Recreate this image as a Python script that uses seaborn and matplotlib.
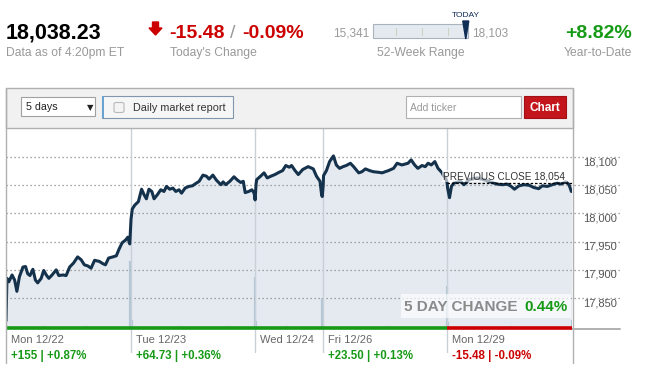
import numpy as np
import pandas as pd
import matplotlib
matplotlib.use("Agg")
import matplotlib.pyplot as plt
import matplotlib.patches as mpatches
import matplotlib.transforms as mtrans
from matplotlib.lines import Line2D
import seaborn as sns

# ---- data ----
days = ["Mon 12/22", "Tue 12/23", "Wed 12/24", "Fri 12/26", "Mon 12/29"]
session_minutes = [390, 390, 210, 390, 390]
day_change_pts = [155, 64.73, 6.04, 23.50, -15.48]
day_change_labels = ["+155 | +0.87%", "+64.73 | +0.36%", "", "+23.50 | +0.13%", "-15.48 | -0.09%"]

mon22_t = [0, 3, 9, 19, 27, 34, 42, 53, 61, 68, 75, 84, 92, 99, 110, 118, 126, 134, 144, 157, 165,
           178, 188, 199, 211, 224, 235, 245, 256, 266, 277, 292, 303, 311, 321, 334, 345, 353, 363,
           374, 381, 387]
mon22_p = [17810, 17885, 17879, 17891, 17882, 17862, 17888, 17905, 17906, 17893, 17890, 17901, 17882,
           17877, 17885, 17899, 17891, 17885, 17891, 17900, 17890, 17891, 17890, 17905, 17912, 17923,
           17918, 17909, 17907, 17903, 17917, 17915, 17911, 17909, 17921, 17923, 17925, 17936, 17948,
           17953, 17958, 17946]
tue23_t = [1, 5, 13, 24, 34, 42, 49, 57, 66, 73, 83, 94, 104, 112, 122, 132, 141, 151, 159, 170, 182,
           193, 203, 214, 226, 237, 245, 257, 268, 282, 289, 297, 310, 323, 334, 344, 352, 358, 369,
           379, 386, 389]
tue23_p = [17990, 18008, 18015, 18021, 18043, 18033, 18026, 18043, 18039, 18026, 18033, 18042, 18039,
           18048, 18043, 18045, 18039, 18042, 18036, 18045, 18048, 18049, 18053, 18057, 18068, 18066,
           18061, 18068, 18059, 18051, 18056, 18051, 18057, 18065, 18059, 18055, 18057, 18037, 18039,
           18042, 18036, 18024]
wed24_t = [2, 4, 14, 27, 37, 48, 61, 74, 85, 95, 106, 113, 124, 134, 148, 165, 181, 191, 202, 207, 209]
wed24_p = [18052, 18060, 18065, 18072, 18063, 18066, 18069, 18073, 18076, 18085, 18082, 18085, 18076,
           18069, 18078, 18083, 18079, 18066, 18057, 18033, 18030]
fri26_t = [2, 3, 12, 22, 29, 34, 43, 53, 64, 74, 87, 97, 113, 123, 134, 147, 159, 175, 186, 206, 222,
           233, 248, 267, 277, 288, 298, 311, 321, 330, 340, 351, 361, 374, 378, 384, 389]
fri26_p = [18050, 18067, 18076, 18092, 18098, 18102, 18086, 18080, 18083, 18085, 18089, 18083, 18072,
           18074, 18079, 18076, 18074, 18073, 18072, 18076, 18080, 18089, 18086, 18089, 18095, 18086,
           18080, 18085, 18083, 18089, 18086, 18092, 18080, 18072, 18067, 18063, 18056]
mon29_t = [1, 4, 7, 13, 21, 42, 52, 68, 94, 114, 135, 156, 172, 188, 200, 210, 224, 240, 256, 271,
           286, 297, 313, 328, 344, 355, 370, 380, 388]
mon29_p = [18045, 18036, 18028, 18048, 18054, 18057, 18051, 18060, 18063, 18060, 18056, 18052, 18051,
           18052, 18048, 18043, 18049, 18051, 18050, 18046, 18044, 18049, 18048, 18051, 18054, 18052,
           18056, 18052, 18039]

# volume bars (day index, minute, volume in chart units 0-100)
vol_day = [0, 0, 0, 0, 1, 1, 1, 1, 2, 2, 2, 3, 3, 3, 4, 4, 4]
vol_min = [1, 120, 250, 389, 3, 150, 300, 389, 2, 100, 209, 2, 200, 389, 2, 200, 389]
vol_val = [5, 1, 1, 33.5, 4, 1, 1, 25.5, 3.5, 1, 15, 2.5, 1, 21, 3, 1, 4]

y_ticks = [17850, 17900, 17950, 18000, 18050, 18100]
prev_close = 18054
last_price = 18038.23
week52_low, week52_high = 15341, 18103

# ---- style ----
sns.set_style("white")
plt.rcParams["font.family"] = ["Liberation Sans", "DejaVu Sans"]

W, H = 645, 375
fig = plt.figure(figsize=(W / 100, H / 100), dpi=100)
fig.patch.set_facecolor("white")


def px(x):
    return x / W


def py(y):
    return 1 - y / H


def T(x, y, s, **kw):
    return fig.text(px(x), py(y), s, **kw)


GREEN = "#169a16"
RED = "#cc0000"
GRAY = "#999999"
NAVY = "#15324c"

# ---- header ----
T(6, 38.5, "18,038.23", fontsize=15.5, fontweight="bold", color="black", va="baseline")
T(6, 56, "Data as of 4:20pm ET", fontsize=8.7, color=GRAY, va="baseline")
arrow = mpatches.Polygon([(px(152.5), py(22)), (px(158.5), py(22)), (px(158.5), py(28)),
                          (px(162), py(28)), (px(155.5), py(35)), (px(149), py(28)),
                          (px(152.5), py(28))], closed=True, color=RED, transform=fig.transFigure)
fig.patches.append(arrow)
T(169, 38.5, "-15.48", fontsize=14, fontweight="bold", color=RED, va="baseline")
T(230, 38.5, "/", fontsize=14, color=GRAY, va="baseline")
T(242, 38.5, "-0.09%", fontsize=14, fontweight="bold", color=RED, va="baseline")
T(170, 56, "Today's Change", fontsize=8.7, color=GRAY, va="baseline")

# 52-week range bar
bar_x0, bar_x1 = 373, 468
fig.patches.append(mpatches.Rectangle((px(bar_x0), py(38)), px(bar_x1 - bar_x0), 14 / H,
                                      facecolor="#e5eaf0", edgecolor="#a9b3bd", lw=0.8,
                                      transform=fig.transFigure))
for tx in [396, 422, 448]:
    fig.lines.append(Line2D([px(tx), px(tx)], [py(27.5), py(34.5)], color="#c9d3c0", lw=0.8,
                            transform=fig.transFigure))
frac = (last_price - week52_low) / (week52_high - week52_low)
mx = bar_x0 + frac * (bar_x1 - bar_x0)
fig.patches.append(mpatches.Polygon([(px(mx - 3), py(21)), (px(mx + 3), py(21)), (px(mx), py(39))],
                                     closed=True, color="#0f2d55", transform=fig.transFigure))
T(mx, 17, "TODAY", fontsize=6, color="#0f2d55", ha="center", va="baseline")
T(369, 36.5, f"{week52_low:,}", fontsize=8.5, color=GRAY, ha="right", va="baseline")
T(472, 36.5, f"{week52_high:,}", fontsize=8.5, color=GRAY, ha="left", va="baseline")
T(421, 56, "52-Week Range", fontsize=8.7, color=GRAY, ha="center", va="baseline")

T(632, 38.5, "+8.82%", fontsize=14, fontweight="bold", color=GREEN, ha="right", va="baseline")
T(632, 56, "Year-to-Date", fontsize=8.7, color=GRAY, ha="right", va="baseline")

# ---- toolbar ----
fig.patches.append(mpatches.Rectangle((px(5.5), py(128)), px(573 - 5.5), 40 / H,
                                      facecolor="#f1f1f1", edgecolor="#b0b0b0", lw=1,
                                      transform=fig.transFigure))
fig.patches.append(mpatches.Rectangle((px(20.5), py(116)), px(75), 19 / H, facecolor="white",
                                      edgecolor="#a0a0a0", lw=0.8, transform=fig.transFigure))
T(26, 110, "5 days", fontsize=7.7, color="#222222", va="baseline")
T(87, 110, "\u25bc", fontsize=6, color="#222222", va="baseline", family="DejaVu Sans")
fig.patches.append(mpatches.Rectangle((px(101.5), py(118)), px(131), 22 / H, facecolor="#f6f6f6",
                                      edgecolor="#7f97ad", lw=0.8, transform=fig.transFigure))
fig.patches.append(mpatches.Rectangle((px(101.5), py(118)), px(3), 22 / H, facecolor="#6aa3cf",
                                      edgecolor="none", transform=fig.transFigure))
fig.patches.append(mpatches.FancyBboxPatch((px(114), py(112.5)), px(10), 10 / H,
                                           boxstyle="round,pad=0,rounding_size=0.004",
                                           facecolor="#f4f4f4", edgecolor="#b8b8b8", lw=0.8,
                                           transform=fig.transFigure))
T(133, 111, "Daily market report", fontsize=7.8, color="#333333", va="baseline")
fig.patches.append(mpatches.Rectangle((px(405.5), py(118)), px(115), 22 / H, facecolor="white",
                                      edgecolor="#b0b0b0", lw=0.8, transform=fig.transFigure))
T(410, 111, "Add ticker", fontsize=7.5, color=GRAY, va="baseline")
fig.patches.append(mpatches.Rectangle((px(523.5), py(118)), px(42), 22 / H, facecolor="#c3161c",
                                      edgecolor="#a01015", lw=0.8, transform=fig.transFigure))
T(544.5, 111, "Chart", fontsize=8.5, fontweight="bold", color="white", ha="center", va="baseline")

# frame borders
for bx in [5.5, 572.5]:
    fig.lines.append(Line2D([px(bx), px(bx)], [py(88), py(363)], color="#b0b0b0", lw=1,
                            transform=fig.transFigure))

# ---- price chart ----
day_offsets = np.concatenate([[0], np.cumsum(session_minutes)[:-1]])
total_minutes = sum(session_minutes)
day_t = [mon22_t, tue23_t, wed24_t, fri26_t, mon29_t]
day_p = [mon22_p, tue23_p, wed24_p, fri26_p, mon29_p]
df = pd.concat([pd.DataFrame({"t": np.array(t) + off, "price": p, "day": d})
                for t, p, off, d in zip(day_t, day_p, day_offsets, days)], ignore_index=True)

y_lo, y_hi = 17797, 18151.5
ax = fig.add_axes([px(6), py(328), px(572 - 6), 200 / H])
ax.set_xlim(0, total_minutes)
ax.set_ylim(y_lo, y_hi)
ax.axis("off")

ax.fill_between(df["t"], df["price"], y_lo, color="#e5eaf1", lw=0, zorder=1)

vol_x = [day_offsets[d] + m for d, m in zip(vol_day, vol_min)]
ax.vlines(vol_x, 0, np.array(vol_val) / 100, transform=ax.get_xaxis_transform(),
          colors="#b3c6d6", lw=1.6, zorder=2)

grid_right = (620 - 6) / 566
for v in y_ticks:
    ax.axhline(v, xmin=0, xmax=grid_right, clip_on=False, color="#8a8a8a", lw=0.9,
               ls=(0, (1, 2.2)), zorder=3)
    ax.text(1.0195, v, f"{v:,}", transform=mtrans.blended_transform_factory(ax.transAxes, ax.transData),
            fontsize=8, color="#555555", va="top", ha="left")

for off in day_offsets[1:]:
    ax.axvline(off, ymin=-24 / 200, ymax=1, clip_on=False, color="#c8d0d8", lw=1, zorder=3)

sns.lineplot(data=df, x="t", y="price", ax=ax, color=NAVY, lw=2.2, zorder=4,
             estimator=None, sort=True, legend=False)
ax.set_xlabel("")
ax.set_ylabel("")

# bottom up/down strip
xt = ax.get_xaxis_transform()
for off, n, chg in zip(day_offsets, session_minutes, day_change_pts):
    ax.plot([off, off + n], [0, 0], transform=xt, color=GREEN if chg >= 0 else RED, lw=2.6,
            solid_capstyle="butt", clip_on=False, zorder=6)
ax.plot([1.0, grid_right], [-0.004, -0.004], transform=ax.transAxes, color="#b0b0b0", lw=1.4,
        clip_on=False, zorder=5)

# previous close
ax.hlines(prev_close, day_offsets[-1], total_minutes, colors="black", linestyles=(0, (2, 1.5)),
          lw=0.9, zorder=6)
ax.text(0.988, prev_close + 3.5, f"PREVIOUS CLOSE {prev_close:,}",
        transform=mtrans.blended_transform_factory(ax.transAxes, ax.transData),
        fontsize=7.2, color="#333333", ha="right", va="bottom", zorder=7,
        bbox=dict(facecolor="white", alpha=0.6, edgecolor="none", pad=1))

# 5 day change box
fig.patches.append(mpatches.Rectangle((px(401), py(318)), px(170), 24 / H, facecolor="white",
                                      alpha=0.65, edgecolor="none", transform=fig.transFigure,
                                      zorder=8))
T(517, 311, "5 DAY CHANGE", fontsize=11, fontweight="bold", color="#8a8a8a", ha="right",
  va="baseline", zorder=9)
T(524, 311, "0.44%", fontsize=11, fontweight="bold", color=GREEN, ha="left", va="baseline", zorder=9)

# day labels under chart
for off, name, lab, chg in zip(day_offsets, days, day_change_labels, day_change_pts):
    xfig = ax.transData.transform((off, y_lo))[0] / fig.dpi / fig.get_figwidth() * W
    T(xfig + 5, 343, name, fontsize=8, color="#666666", va="baseline")
    if lab:
        T(xfig + 5, 359, lab, fontsize=8.3, fontweight="bold", color=GREEN if chg >= 0 else RED,
          va="baseline")

fig.savefig("out.png", dpi=100)
